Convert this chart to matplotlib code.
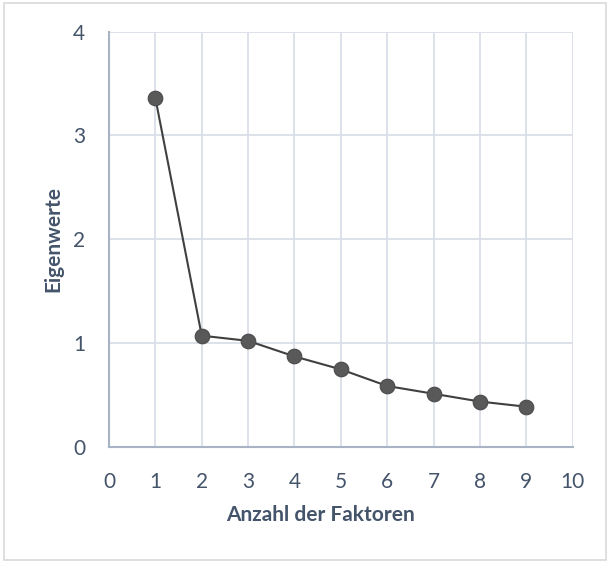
import matplotlib.pyplot as plt
from matplotlib.patches import Rectangle

plt.rcParams["font.family"] = ["Lato", "DejaVu Sans"]

faktoren = [1, 2, 3, 4, 5, 6, 7, 8, 9]
eigenwerte = [3.36, 1.07, 1.02, 0.87, 0.745, 0.585, 0.51, 0.435, 0.385]
x_ticks = [0, 1, 2, 3, 4, 5, 6, 7, 8, 9, 10]
y_ticks = [0, 1, 2, 3, 4]

text_col = "#44546A"
grid_col = "#D9DEE8"
axis_col = "#A9B3C6"

fig = plt.figure(figsize=(6.1, 5.63), dpi=100)
ax = fig.add_axes([0.1787, 0.2066, 0.7602, 0.7371])

ax.plot(faktoren, eigenwerte, color="#404040", linewidth=1.5, marker="o",
        markersize=10.5, markerfacecolor="#595959", markeredgecolor="#4a4a4a",
        markeredgewidth=0.8, zorder=3)

ax.set_xlim(0, 10)
ax.set_ylim(0, 4)
ax.set_xticks(x_ticks)
ax.set_yticks(y_ticks)
ax.grid(True, color=grid_col, linewidth=1.3)
ax.set_axisbelow(True)

for s in ["top", "right"]:
    ax.spines[s].set_visible(False)
for s in ["left", "bottom"]:
    ax.spines[s].set_color(axis_col)
    ax.spines[s].set_linewidth(1.5)

ax.tick_params(axis="both", length=0, labelsize=15, labelcolor=text_col)
ax.tick_params(axis="y", pad=17)
ax.tick_params(axis="x", pad=18)

ax.set_xlabel("Anzahl der Faktoren", fontsize=15, fontweight="bold",
              color=text_col, va="center")
ax.xaxis.set_label_coords(0.455, -0.164)
ax.set_ylabel("Eigenwerte", fontsize=15, fontweight="bold",
              color=text_col, va="center")
ax.yaxis.set_label_coords(-0.121, 0.5)

fig.patches.append(Rectangle((0.006, 0.006), 0.988, 0.988, transform=fig.transFigure,
                             fill=False, edgecolor="#D9D9D9", linewidth=1.2))

fig.savefig("out.png", dpi=100)
